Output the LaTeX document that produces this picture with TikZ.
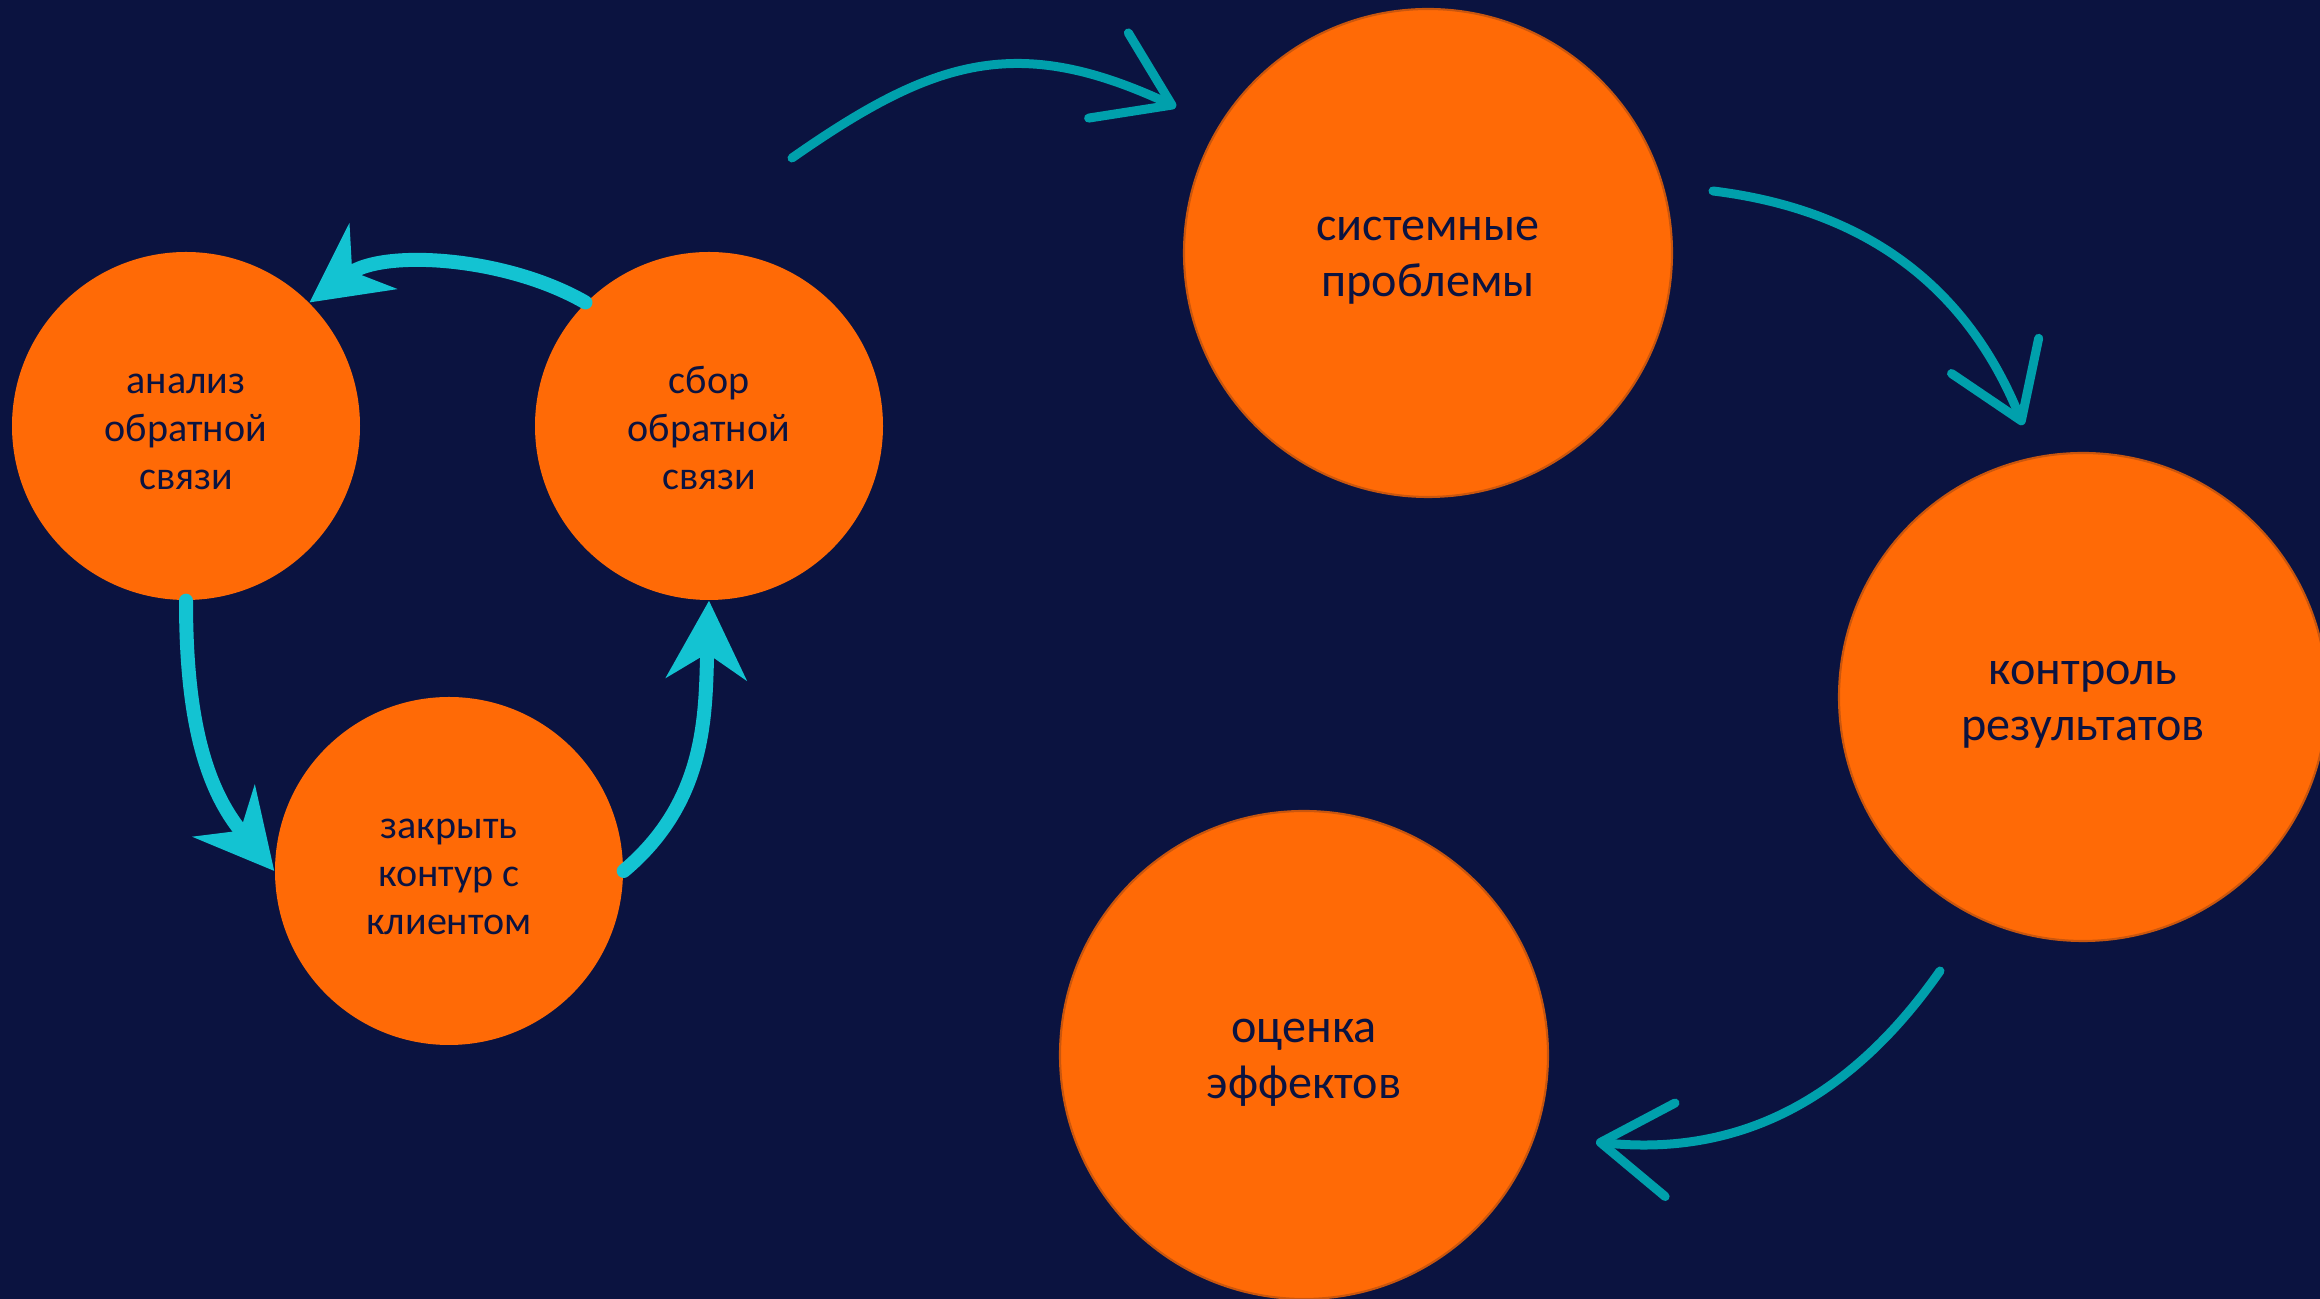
\documentclass[tikz,border=0pt]{standalone}
\usepackage{fontspec}
\setmainfont{Carlito}
\usetikzlibrary{arrows.meta}
\definecolor{bgnavy}{HTML}{0B1340}
\definecolor{fillorange}{HTML}{FF6A06}
\definecolor{edgeorange}{HTML}{C9560E}
\definecolor{loopcyan}{HTML}{13C3D2}
\definecolor{flowteal}{HTML}{00A0AC}
\newcommand{\smalltop}{\rule{0pt}{13pt}}
\newcommand{\bigtop}{\rule{0pt}{13.7pt}}
\tikzset{
  every picture/.style={line join=round, line cap=round},
  small node/.style={circle, fill=fillorange, minimum size=3.48cm, inner sep=0pt, align=center, text=bgnavy, font=\fontsize{11.4}{13.7}\selectfont},
  big node/.style={circle, fill=fillorange, draw=edgeorange, line width=0.6pt, minimum size=4.88cm, inner sep=0pt, align=center, text=bgnavy, font=\fontsize{13.7}{16}\selectfont},
  loop arrow/.style={loopcyan, line width=0.14cm, -{Stealth[length=0.78cm, width=0.8cm]}},
  flow arrow/.style={flowteal, line width=0.09cm, -{Straight Barb[length=0.7cm, width=0.94cm, round]}},
}
\begin{document}
\begin{tikzpicture}
\useasboundingbox (0,0) rectangle (23.2,12.99);
\clip (0,0) rectangle (23.2,12.99);
\fill[bgnavy] (0,0) rectangle (23.2,12.99);
\node[small node] (analiz) at (1.86,8.73) {\smalltop анализ\\обратной\\связи\strut};
\node[small node] (sbor) at (7.09,8.73) {\smalltop сбор\\обратной\\связи\strut};
\node[small node] (zakryt) at (4.49,4.28) {\smalltop закрыть\\контур с\\клиентом\strut};
\node[big node] (sistem) at (14.28,10.46) {\bigtop системные\\проблемы\strut};
\node[big node] (kontrol) at (20.83,6.02) {\bigtop контроль\\результатов\strut};
\node[big node] (ocenka) at (13.04,2.44) {\bigtop оценка\\эффектов\strut};
\draw[loop arrow] (sbor.135) to[out=150,in=36,looseness=0.85] (analiz.45);
\draw[loop arrow] (analiz.south) to[out=-90,in=130] (zakryt.west);
\draw[loop arrow] (zakryt.east) to[out=40,in=-92] (sbor.south);
\coordinate (f1a) at (7.92,11.41);
\coordinate (f1b) at (11.76,11.92);
\coordinate (f2a) at (17.13,11.08);
\coordinate (f2b) at (20.23,8.74);
\coordinate (f3a) at (19.40,3.28);
\coordinate (f3b) at (15.96,1.57);
\draw[flow arrow] (f1a) to[out=35,in=155,looseness=1.15] (f1b);
\draw[flow arrow] (f2a) to[out=-7,in=112] (f2b);
\draw[flow arrow] (f3a) to[out=235,in=-6] (f3b);
\end{tikzpicture}
\end{document}
